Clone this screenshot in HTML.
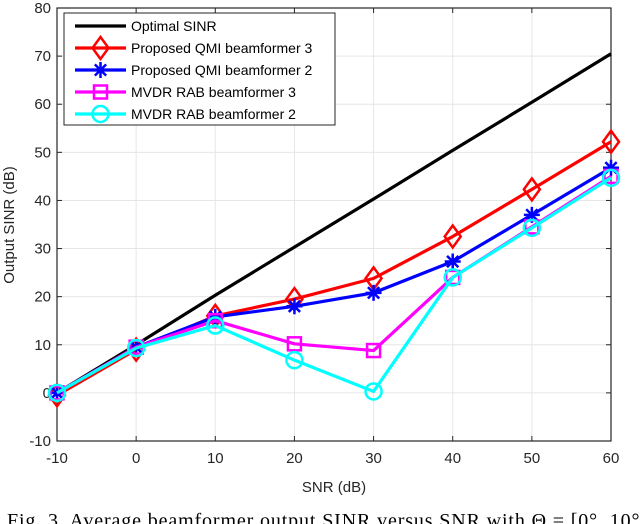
<!DOCTYPE html>
<html><head><meta charset="utf-8"><style>
html,body{margin:0;padding:0;background:#fff;width:640px;height:524px;overflow:hidden}
svg{display:block}
text{font-family:"Liberation Sans",sans-serif}
</style></head><body>
<svg id="chart" width="640" height="524" xmlns="http://www.w3.org/2000/svg">
<g id="grid"></g>
<g id="axes"></g>
<g id="series"></g>
<g id="legend"></g>
<text x="334" y="492" font-size="15" text-anchor="middle" fill="#262626">SNR (dB)</text>
<text transform="translate(14,225) rotate(-90)" font-size="15" text-anchor="middle" fill="#262626">Output SINR (dB)</text>
<text x="7" y="527" font-size="20" textLength="640" lengthAdjust="spacing" style="font-family:'Liberation Serif',serif" fill="#000">Fig. 3.   Average beamformer output SINR versus SNR with Θ = [0°, 10°]</text>
</svg>
<script>
const snr=[-10,0,10,20,30,40,50,60];
const optimal=[0,10,20.3,30.3,40.3,50.4,60.4,70.5];
const qmi3=[-0.5,9,16,19.5,23.8,32.5,42.3,52.2];
const qmi2=[0,9.5,15.8,18,20.8,27.3,37,46.8];
const mvdr3=[0,9.5,15,10.2,8.8,24,34.5,45];
const mvdr2=[0,9.3,14,6.8,0.3,24,34.3,44.7];
const xTicks=[-10,0,10,20,30,40,50,60];
const yTicks=[-10,0,10,20,30,40,50,60,70,80];
const legendLabels=["Optimal SINR","Proposed QMI beamformer 3","Proposed QMI beamformer 2","MVDR RAB beamformer 3","MVDR RAB beamformer 2"];

const NS="http://www.w3.org/2000/svg";
const X0=57,X1=611,Y0=441,Y1=8;
const xs=v=>X0+(v+10)/70*(X1-X0);
const ys=v=>Y0-(v+10)/90*(Y0-Y1);
function mk(tag,attrs,parent){const e=document.createElementNS(NS,tag);for(const k in attrs)e.setAttribute(k,attrs[k]);parent.appendChild(e);return e;}
const grid=document.getElementById('grid'),axes=document.getElementById('axes'),ser=document.getElementById('series'),leg=document.getElementById('legend');
mk('rect',{x:X0,y:Y1,width:X1-X0,height:Y0-Y1,fill:'#fff'},grid);
xTicks.forEach(t=>{
  const l=mk('line',{x1:xs(t),x2:xs(t),y1:Y1,y2:Y0,stroke:'#e6e6e6','stroke-width':1},grid);
  
  
  mk('line',{x1:xs(t),x2:xs(t),y1:Y0,y2:Y0-5,stroke:'#262626'},axes);
  mk('line',{x1:xs(t),x2:xs(t),y1:Y1,y2:Y1+5,stroke:'#262626'},axes);
  const tx=mk('text',{x:xs(t),y:Y0+22,'font-size':15,'text-anchor':'middle',fill:'#262626'},axes);
  tx.textContent=t;
  
  
});
yTicks.forEach(t=>{
  const l=mk('line',{x1:X0,x2:X1,y1:ys(t),y2:ys(t),stroke:'#e6e6e6','stroke-width':1},grid);
  
  
  mk('line',{x1:X0,x2:X0+5,y1:ys(t),y2:ys(t),stroke:'#262626'},axes);
  mk('line',{x1:X1,x2:X1-5,y1:ys(t),y2:ys(t),stroke:'#262626'},axes);
  const tx=mk('text',{x:X0-6,y:ys(t)+5,'font-size':15,'text-anchor':'end',fill:'#262626'},axes);
  tx.textContent=t;
  
  
});
mk('rect',{x:X0,y:Y1,width:X1-X0,height:Y0-Y1,fill:'none',stroke:'#262626','stroke-width':1.2},axes);

function marker(type,x,y,color,g){
  if(type==='diamond')mk('polygon',{points:`${x},${y-11} ${x+8},${y} ${x},${y+11} ${x-8},${y}`,fill:'none',stroke:color,'stroke-width':2.5},g);
  else if(type==='star'){for(let a=0;a<4;a++){const r=a*Math.PI/4;mk('line',{x1:x-8*Math.cos(r),y1:y-8*Math.sin(r),x2:x+8*Math.cos(r),y2:y+8*Math.sin(r),stroke:color,'stroke-width':2.5},g);}}
  else if(type==='square')mk('rect',{x:x-6.5,y:y-6.5,width:13,height:13,fill:'none',stroke:color,'stroke-width':2.5},g);
  else if(type==='circle')mk('circle',{cx:x,cy:y,r:8,fill:'none',stroke:color,'stroke-width':2.5},g);
}
const seriesDefs=[[optimal,'#000',null,'optimal-sinr-line'],[qmi3,'#ff0000','diamond','qmi3-line'],[qmi2,'#0000ff','star','qmi2-line'],[mvdr3,'#ff00ff','square','mvdr3-line'],[mvdr2,'#00ffff','circle','mvdr2-line']];
seriesDefs.forEach(([d,c,m,name])=>{
  const g=mk('g',{},ser);
  
  
  mk('polyline',{points:d.map((v,i)=>xs(snr[i])+','+ys(v)).join(' '),fill:'none',stroke:c,'stroke-width':3.2,'stroke-linejoin':'round'},g);
  if(m)d.forEach((v,i)=>marker(m,xs(snr[i]),ys(v),c,g));
});
mk('rect',{x:64,y:13,width:271,height:112,fill:'#fff',stroke:'#262626','stroke-width':1},leg);
seriesDefs.forEach(([d,c,m],i)=>{
  const y=26+i*22;
  const g=mk('g',{},leg);
  
  
  mk('line',{x1:75,x2:126,y1:y,y2:y,stroke:c,'stroke-width':3.2},g);
  if(m)marker(m,100.5,y,c,g);
  const t=mk('text',{x:131,y:y+5,'font-size':14,fill:'#000'},g);
  t.textContent=legendLabels[i];
});
</script>
</body></html>
